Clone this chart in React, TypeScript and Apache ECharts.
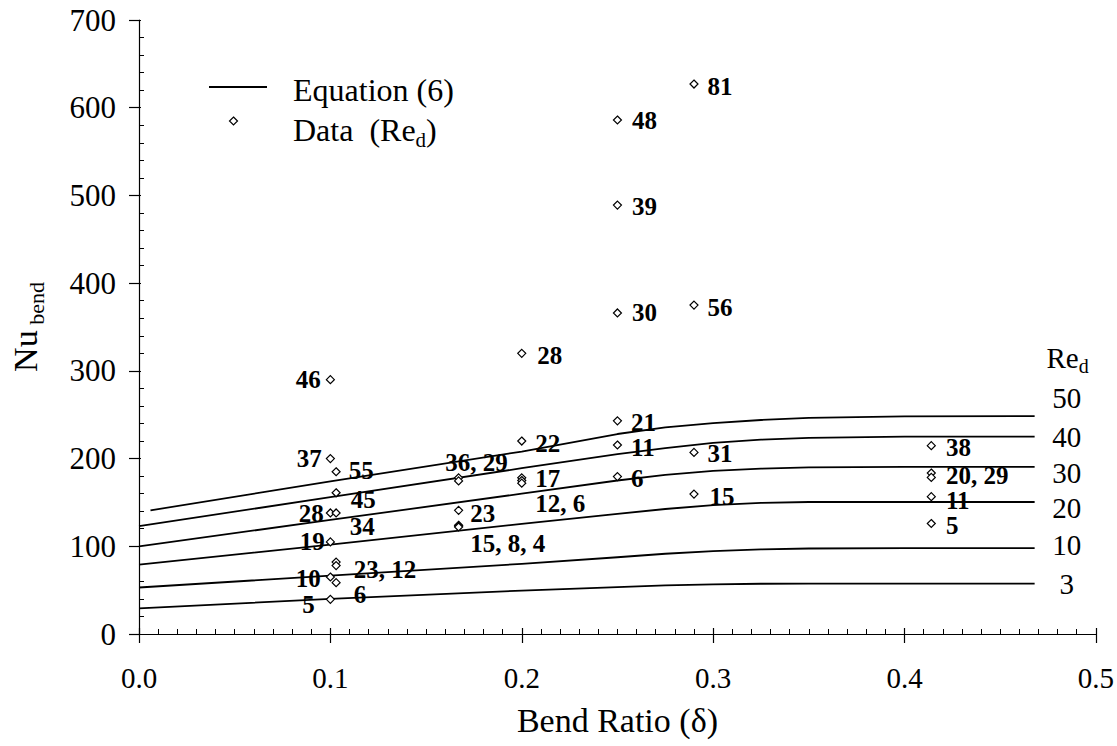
import React, { useEffect, useRef } from "react";
import * as echarts from "echarts";

const FONT = "'Liberation Serif', 'Times New Roman', 'DejaVu Serif', serif";

// Equation (6) curves, one per Re_d
const curveRe = ["3", "10", "20", "30", "40", "50"];
const curveDelta = [0, 0.1, 0.2, 0.25, 0.275, 0.3, 0.325, 0.35, 0.4, 0.468];
const curveStartDelta = [0, 0, 0, 0, 0, 0.006];
const nuRe3 = [29.3, 40, 49.5, 53.5, 55.5, 56.5, 57.3, 57.5, 57.5, 57.5];
const nuRe10 = [53, 66.5, 80, 87.5, 91.5, 94.5, 96.5, 97.5, 98, 98];
const nuRe20 = [79, 102, 125.5, 137, 142.5, 147, 149.5, 150.5, 150.5, 150.5];
const nuRe30 = [100, 130, 160, 175, 181.5, 186, 188.5, 190, 190.5, 190.5];
const nuRe40 = [123, 156, 189, 205, 212, 218, 221.5, 223.5, 225, 225];
const nuRe50 = [141, 174, 208, 228, 235.5, 240.5, 244, 246.5, 248, 248.5];
const curveNu = [nuRe3, nuRe10, nuRe20, nuRe30, nuRe40, nuRe50];

// Measured data points (Re_d labels)
const dataDelta = [
  0.1, 0.1, 0.103, 0.103, 0.1, 0.103, 0.1, 0.103, 0.103, 0.1, 0.103, 0.1,
  0.167, 0.167, 0.167, 0.167, 0.167, 0.167,
  0.2, 0.2, 0.2, 0.2, 0.2,
  0.25, 0.25, 0.25, 0.25, 0.25, 0.25,
  0.29, 0.29, 0.29, 0.29,
  0.414, 0.414, 0.414, 0.414, 0.414,
];
const dataNu = [
  290, 200, 185, 161, 138, 138, 105, 82, 78, 65, 58.5, 39.5,
  178, 174.5, 141, 124, 123, 122,
  320, 220, 178, 175, 172,
  586, 489, 366, 243, 215.5, 179.5,
  627, 375, 207, 159.5,
  214.7, 183.5, 178.5, 156.6, 126,
];
const dataLabel = [
  "46", "37", "55", "45", "28", "34", "19", "23, 12", "", "10", "6", "5",
  "36, 29", "", "23", "15, 8, 4", "", "",
  "28", "22", "17", "12, 6", "",
  "48", "39", "30", "21", "11", "6",
  "81", "56", "31", "15",
  "38", "20, 29", "", "11", "5",
];
// label placement (style): side, dx, dy
const labelPlacement: [string, number, number][] = [
  ["left", 0, 0], ["left", 1, 0], ["right", -1, -1], ["right", 1, 7], ["left", 3, 1], ["right", 0, 14],
  ["left", 4, 0], ["right", 4, 7], ["none", 0, 0], ["left", 0, 2], ["right", 4, 12], ["left", -6, 5],
  ["right", -27, -15], ["none", 0, 0], ["right", -2, 3], ["right", -2, 18], ["none", 0, 0], ["none", 0, 0],
  ["right", 2, 2], ["right", 0, 2], ["right", 0, 1], ["right", 0, 23], ["none", 0, 0],
  ["right", 1, 1], ["right", 1, 1], ["right", 1, 0], ["right", 0, 2], ["right", 0, 3], ["right", 0, 2],
  ["right", 0, 2], ["right", 0, 2], ["right", 0, 1], ["right", 2, 2],
  ["right", 1, 2], ["right", 1, 2], ["none", 0, 0], ["right", 1, 4], ["right", 1, 2],
];
// right-hand curve labels, vertical shift from curve end (style)
const rightLabelShift = [0, -3, 6, 6, 0, -18];

export default function App() {
  const ref = useRef<HTMLDivElement>(null);
  useEffect(() => {
    if (!ref.current) return;
    const chart = echarts.init(ref.current, undefined, { renderer: "svg" });
    const black = "#000";
    const lineSeries = curveNu.map((vals, i) => ({
      name: "Equation (6) Re " + curveRe[i],
      type: "line",
      xAxisIndex: 0,
      yAxisIndex: 0,
      data: vals.map((v, j) => [j === 0 ? curveStartDelta[i] : curveDelta[j], v]),
      symbol: "none",
      smooth: false,
      lineStyle: { color: black, width: 1.8, join: "round" },
      silent: true,
      z: 2,
    }));
    const scatterData = dataDelta.map((x, i) => {
      const [side, dx, dy] = labelPlacement[i];
      return {
        value: [x, dataNu[i]],
        name: dataLabel[i],
        label: {
          show: side !== "none" && dataLabel[i] !== "",
          position: side === "none" ? "right" : side,
          distance: side === "left" ? 5 : 9,
          offset: [dx, dy],
        },
      };
    });
    const option: any = {
      animation: false,
      backgroundColor: "#fff",
      grid: { left: 136, right: 18, top: 20, bottom: 112, containLabel: false },
      xAxis: [
        {
          type: "value", min: 0, max: 0.5, interval: 0.1, position: "bottom",
          axisLine: { show: true, onZero: false, lineStyle: { color: black, width: 1.2 } },
          axisTick: { show: true, inside: false, length: 9, lineStyle: { color: black, width: 1.2 } },
          axisLabel: { margin: 29, fontSize: 29, color: black, fontFamily: FONT, formatter: (v: number) => v.toFixed(1) },
          splitLine: { show: false },
          name: "Bend Ratio (δ)", nameLocation: "middle", nameGap: 69,
          nameTextStyle: { fontSize: 34, color: black, fontFamily: FONT },
        },
        {
          type: "value", min: 0, max: 0.5, interval: 0.1, position: "bottom",
          axisLine: { show: false, onZero: false },
          axisTick: { show: true, inside: true, length: 6, lineStyle: { color: black, width: 1.2 } },
          minorTick: { show: true, splitNumber: 10, length: 5, lineStyle: { color: black, width: 1 } },
          axisLabel: { show: false }, splitLine: { show: false },
        },
      ],
      yAxis: [
        {
          type: "value", min: 0, max: 700, interval: 100, position: "left",
          axisLine: { show: true, onZero: false, lineStyle: { color: black, width: 1.2 } },
          axisTick: { show: true, inside: false, length: 10, lineStyle: { color: black, width: 1.2 } },
          axisLabel: { margin: 23, fontSize: 31, color: black, fontFamily: FONT },
          splitLine: { show: false },
          name: "{nu|Nu}{sub| bend}", nameLocation: "middle", nameRotate: 90, nameGap: 92,
          nameTextStyle: {
            color: black, fontFamily: FONT,
            rich: {
              nu: { fontSize: 34, lineHeight: 44, fontFamily: FONT, color: black },
              sub: { fontSize: 22, lineHeight: 22, verticalAlign: "bottom", fontFamily: FONT, color: black },
            },
          },
        },
        {
          type: "value", min: 0, max: 700, interval: 100, position: "left",
          axisLine: { show: false, onZero: false },
          axisTick: { show: true, inside: true, length: 2, lineStyle: { color: black, width: 1.2 } },
          minorTick: { show: true, splitNumber: 5, length: 5, lineStyle: { color: black, width: 1 } },
          axisLabel: { show: false }, splitLine: { show: false },
        },
      ],
      series: [
        ...lineSeries,
        {
          name: "Data (Re_d)",
          type: "scatter",
          xAxisIndex: 0,
          yAxisIndex: 0,
          symbol: "diamond",
          symbolSize: 8,
          itemStyle: { color: "#fff", borderColor: black, borderWidth: 1.2, opacity: 1 },
          label: {
            show: true,
            formatter: (p: any) => p.name,
            fontFamily: FONT, fontWeight: "bold", fontSize: 25, color: black,
          },
          emphasis: { disabled: true },
          data: scatterData,
          z: 3,
        },
      ],
    };
    chart.setOption(option);

    const graphics: any[] = [
      { type: "line", shape: { x1: 209, y1: 87, x2: 267, y2: 87 }, style: { stroke: black, lineWidth: 1.8 } },
      {
        type: "text", x: 293, y: 90,
        style: { text: "Equation (6)", fontSize: 32, fontFamily: FONT, fill: black, align: "left", verticalAlign: "middle" },
      },
      {
        type: "polygon",
        shape: { points: [[233.5, 117], [237.5, 121], [233.5, 125], [229.5, 121]] },
        style: { fill: "#fff", stroke: black, lineWidth: 1.2 },
      },
      {
        type: "text", x: 293, y: 130,
        style: {
          text: "Data  (Re{sub|d})", fontSize: 32, lineHeight: 40, fontFamily: FONT, fill: black,
          align: "left", verticalAlign: "middle",
          rich: { sub: { fontSize: 21, lineHeight: 21, verticalAlign: "bottom", fontFamily: FONT, fill: black } },
        },
      },
    ];
    curveNu.forEach((vals, i) => {
      const last = vals.length - 1;
      const p = chart.convertToPixel({ xAxisIndex: 0, yAxisIndex: 0 } as any, [curveDelta[last], vals[last]]) as number[];
      graphics.push({
        type: "text", x: p[0] + 32, y: p[1] + rightLabelShift[i],
        style: { text: curveRe[i], fontSize: 29, fontFamily: FONT, fill: black, align: "center", verticalAlign: "middle" },
      });
      if (i === curveNu.length - 1) {
        graphics.push({
          type: "text", x: p[0] + 33, y: p[1] - 58,
          style: {
            text: "Re{sub|d}", fontSize: 29, lineHeight: 36, fontFamily: FONT, fill: black,
            align: "center", verticalAlign: "middle",
            rich: { sub: { fontSize: 20, lineHeight: 20, verticalAlign: "bottom", fontFamily: FONT, fill: black } },
          },
        });
      }
    });
    chart.setOption({ graphic: graphics });
    return () => chart.dispose();
  }, []);
  return (
    <div
      ref={ref}
      style={{ position: "fixed", left: 0, top: 0, width: 1117, height: 746, background: "#fff" }}
    />
  );
}
